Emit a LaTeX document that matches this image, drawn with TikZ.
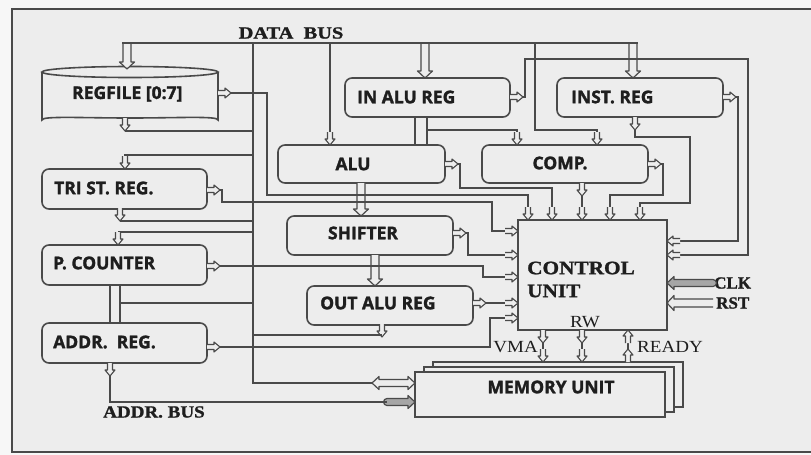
\documentclass[tikz,border=0pt]{standalone}
\usepackage{fontspec}
\usepackage{graphicx}
\setmainfont{Liberation Serif}[BoldFeatures={FakeBold=1.2}]
\newfontfamily\osans{Open Sans}[BoldFeatures={FakeBold=1.6}]
\newcommand{\widetxt}[1]{\scalebox{1.12}[1]{#1}}
\definecolor{bg}{HTML}{EDEDED}
\definecolor{outer}{HTML}{F7F7F7}
\definecolor{dk}{HTML}{4A4A4A}
\definecolor{txt}{HTML}{1E1E1E}
\tikzset{
  box/.style={draw=dk, line width=1.6pt, rounded corners=7pt, inner sep=0pt},
  wire/.style={draw=dk, line width=1.4pt},
  sl/.style={font=\osans\bfseries\fontsize{17.5}{17.5}\selectfont, text=txt, inner sep=0pt, anchor=west},
  sr/.style={font=\bfseries\fontsize{17}{17}\selectfont, text=txt, inner sep=0pt},
  srn/.style={font=\fontsize{17}{17}\selectfont, text=txt, inner sep=0pt},
  pics/sarr/.style={code={\draw[draw=dk, line width=1.1pt, fill=bg, line join=round] (0,-2.5) -- (7,-2.5) -- (7,-5) -- (13,0) -- (7,5) -- (7,2.5) -- (0,2.5);}},
  pics/barr/.style={code={\draw[draw=dk, line width=1.2pt, fill=bg, line join=round] (0,-4) -- ({#1-7},-4) -- ({#1-7},-7.5) -- (#1,0) -- ({#1-7},7.5) -- ({#1-7},4) -- (0,4);}},
  pics/garr/.style={code={\draw[draw=dk, line width=1.2pt, fill=black!35, line join=round] (0,-3.5) -- ({#1-7},-3.5) -- ({#1-7},-6.5) -- (#1,0) -- ({#1-7},6.5) -- ({#1-7},3.5) -- (0,3.5) arc[start angle=90, end angle=270, radius=3.5];}},
  pics/dbarr/.style={code={\draw[draw=dk, line width=1.2pt, fill=bg, line join=round] (0,0) -- (7,-6.5) -- (7,-3.5) -- ({#1-7},-3.5) -- ({#1-7},-6.5) -- (#1,0) -- ({#1-7},6.5) -- ({#1-7},3.5) -- (7,3.5) -- (7,6.5) -- cycle;}},
}
\begin{document}
\begin{tikzpicture}[x=1pt, y=-1pt]
\useasboundingbox (0,0) rectangle (811,455);
\fill[outer] (0,0) rectangle (811,455);
\fill[bg] (12,9) rectangle (811,452);
\draw[draw=dk, line width=1.8pt] (811,9) -- (12,9) -- (12,452) -- (811,452);

% ---------- boxes ----------
\draw[box] (42,72) -- (42,113) arc[start angle=180, end angle=0, x radius=88, y radius=5] -- (218,72);
\draw[box] (130,72) ellipse [x radius=88, y radius=5.5];
\node[inner sep=0pt, minimum width=176, minimum height=46] (regfile) at (130,95) {};
\node[box, minimum width=165, minimum height=40] (tri) at (124.5,189) {};
\node[box, minimum width=165, minimum height=40] (pc) at (124.5,265) {};
\node[box, minimum width=165, minimum height=40] (addr) at (124.5,343) {};
\node[box, minimum width=165, minimum height=39] (inalu) at (427.5,97.5) {};
\node[box, minimum width=166, minimum height=39] (inst) at (640,97.5) {};
\node[box, minimum width=167, minimum height=38] (alu) at (361.5,164) {};
\node[box, minimum width=166, minimum height=38] (comp) at (565,164) {};
\node[box, minimum width=166, minimum height=39] (shift) at (370,235.5) {};
\node[box, minimum width=166, minimum height=39] (outalu) at (390,305.5) {};
\node[draw=dk, line width=1.6pt, inner sep=0pt, minimum width=149, minimum height=110] (cu) at (592.5,275) {};
\draw[draw=dk, line width=1.6pt, fill=bg] (433,362) rectangle (683,407);
\draw[draw=dk, line width=1.6pt, fill=bg] (424,367) rectangle (674,412);
\node[draw=dk, line width=1.6pt, fill=bg, inner sep=0pt, minimum width=250, minimum height=45] (mem) at (540,394.5) {};

% ---------- texts ----------
\node[sl] (t1) at (72,94) {REGFILE [0:7]};
\node[sl] (t2) at (357,97) {IN ALU REG};
\node[sl] (t3) at (571,97) {INST. REG};
\node[sl, anchor=center] (t4) at (353,164) {ALU};
\node[sl, anchor=center] (t5) at (560,163) {COMP.};
\node[sl] (t6) at (54,188) {TRI ST. REG.};
\node[sl, anchor=center] (t7) at (363,233) {SHIFTER};
\node[sl] (t8) at (53,263) {P. COUNTER};
\node[sl] (t9) at (320,303) {OUT ALU REG};
\node[sl] (t10) at (53,342) {ADDR.\ \ REG.};
\node[sl, anchor=center] (t11) at (551,387) {MEMORY UNIT};
\node[sr, font=\bfseries\fontsize{19}{19}\selectfont, anchor=west] (t12) at (527,268) {\widetxt{CONTROL}};
\node[sr, font=\bfseries\fontsize{19}{19}\selectfont, anchor=west] (t13) at (527,291) {\widetxt{UNIT}};
\node[srn, anchor=center] (t14) at (585,322) {\widetxt{RW}};
\node[srn, anchor=east] (t15) at (538,347) {\widetxt{VMA}};
\node[srn, anchor=west] (t16) at (637,347) {\widetxt{READY}};
\node[sr, anchor=west] (t17) at (714,283) {CLK};
\node[sr, anchor=west] (t18) at (716,303) {RST};
\node[sr, anchor=west] (t19) at (103,412) {\widetxt{ADDR.\ BUS}};
\node[sr, anchor=center] (t20) at (291,33) {\scalebox{1.2}[1]{DATA\ \ BUS}};

% ---------- block arrows ----------
\pic[rotate=-90] at (127,43) {barr=26};
\pic[rotate=-90] at (425,43) {barr=35};
\pic[rotate=-90] at (633,43) {barr=35};
\pic[rotate=-90] at (361,183) {barr=33};
\pic[rotate=-90] at (375,255) {barr=31};
\pic[rotate=180] at (713,283) {garr=46};
\pic[rotate=180] at (713,303) {barr=46};
\pic at (372,383) {dbarr=43};
\pic at (387,402) {garr=28};
\draw[draw=dk, line width=1.2pt] (415,117) -- (415,145) (427,117) -- (427,145);
\draw[draw=dk, line width=1.2pt] (110,285) -- (110,323) (120,285) -- (120,323);

% ---------- data bus ----------
\draw[wire] (122,43) -- (638,43);
\draw[wire] (253,43) -- (253,383) -- (372,383);
\draw[wire] (330,43) -- (330,132);
\pic[rotate=-90] at (330,132) {sarr};
\draw[wire] (535,43) -- (535,130) -- (597,130) -- (597,132);
\pic[rotate=-90] at (597,132) {sarr};
\draw[wire] (427,130) -- (517,130) -- (517,132);
\pic[rotate=-90] at (517,132) {sarr};

% bus branches (left)
\pic[rotate=-90] at (125,118) {sarr};
\draw[wire] (125,131) -- (253,131);
\draw[wire] (253,155) -- (125,155) -- (125,156);
\pic[rotate=-90] at (125,156) {sarr};
\pic[rotate=-90] at (120,208) {sarr};
\draw[wire] (120,221) -- (253,221);
\draw[wire] (253,232) -- (118,232);
\pic[rotate=-90] at (118,232) {sarr};
\draw[wire] (120,303) -- (253,303);
\pic[rotate=-90] at (382,324) {sarr};
\draw[wire] (382,335) -- (253,335);
\pic[rotate=-90] at (110,363) {sarr};
\draw[wire] (110,376) -- (110,402) -- (387,402);

% ---------- to control unit, left side ----------
\pic at (218,93) {sarr};
\draw[wire] (231,93) -- (267,93) -- (267,195) -- (528,195) -- (528,207);
\pic[rotate=-90] at (528,207) {sarr};
\pic at (207,190) {sarr};
\draw[wire] (220,190) -- (222,190) -- (222,202) -- (492,202) -- (492,231) -- (505,231);
\pic at (505,231) {sarr};
\pic at (445,164) {sarr};
\draw[wire] (458,164) -- (460,164) -- (460,188) -- (552,188) -- (552,207);
\pic[rotate=-90] at (552,207) {sarr};
\pic at (453,233) {sarr};
\draw[wire] (466,233) -- (468,233) -- (468,255) -- (505,255);
\pic at (505,255) {sarr};
\pic at (207,266) {sarr};
\draw[wire] (220,266) -- (483,266) -- (483,277) -- (505,277);
\pic at (505,277) {sarr};
\pic at (473,303) {sarr};
\draw[wire] (486,303) -- (505,303);
\pic at (505,303) {sarr};
\pic at (207,347) {sarr};
\draw[wire] (220,347) -- (490,347) -- (490,318) -- (505,318);
\pic at (505,318) {sarr};

% ---------- to control unit, top ----------
\pic[rotate=-90] at (582,183) {sarr};
\draw[wire] (582,196) -- (582,207);
\pic[rotate=-90] at (582,207) {sarr};
\pic at (648,164) {sarr};
\draw[wire] (661,164) -- (663,164) -- (663,195) -- (610,195) -- (610,207);
\pic[rotate=-90] at (610,207) {sarr};
\pic[rotate=-90] at (635,117) {sarr};
\draw[wire] (635,130) -- (635,137) -- (690,137) -- (690,203) -- (640,203) -- (640,207);
\pic[rotate=-90] at (640,207) {sarr};

% ---------- to control unit, right ----------
\pic at (723,97) {sarr};
\draw[wire] (736,97) -- (738,97) -- (738,241) -- (680,241);
\pic[rotate=180] at (680,241) {sarr};
\pic at (510,97) {sarr};
\draw[wire] (523,97) -- (525,97) -- (525,59) -- (748,59) -- (748,255) -- (680,255);
\pic[rotate=180] at (680,255) {sarr};

% ---------- control unit to memory ----------
\pic[rotate=-90] at (543,330) {sarr};
\draw[wire] (543,343) -- (543,349);
\pic[rotate=-90] at (543,349) {sarr};
\pic[rotate=-90] at (582,330) {sarr};
\draw[wire] (582,343) -- (582,349);
\pic[rotate=-90] at (582,349) {sarr};
\pic[rotate=90] at (628,362) {sarr};
\draw[wire] (628,349) -- (628,343);
\pic[rotate=90] at (628,343) {sarr};
\end{tikzpicture}
\end{document}
